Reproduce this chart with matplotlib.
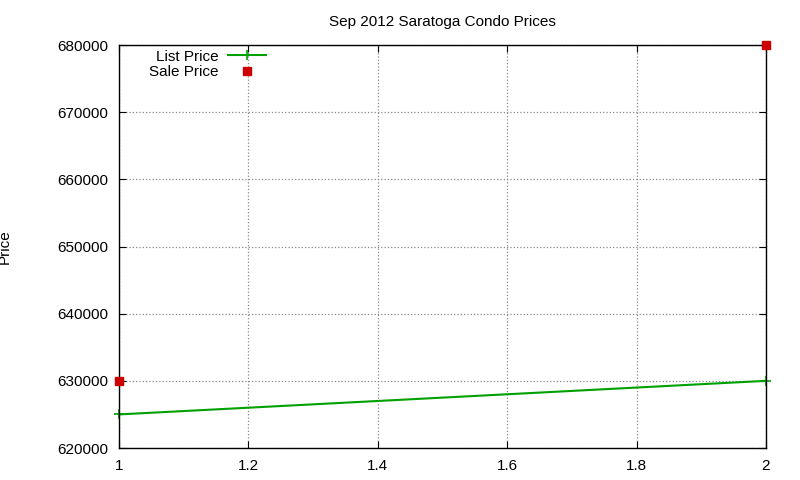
import matplotlib
matplotlib.use("Agg")
import matplotlib.pyplot as plt

x = [1, 2]
list_price = [625000, 630000]
sale_price = [630000, 680000]
title = "Sep 2012 Saratoga Condo Prices"

plt.rcParams['font.family'] = ['Liberation Sans', 'DejaVu Sans']
fig = plt.figure(figsize=(8, 4.8), dpi=100)
ax = fig.add_axes([119/800, 1-448/480, (766-119)/800, (448-45)/480])
ax.plot(x, list_price, color='#00a000', lw=1.5, marker='+', ms=7, mew=1.2, label='List Price', clip_on=False)
ax.plot(x, sale_price, ls='none', color='#cc0000', marker='s', ms=6, label='Sale Price', clip_on=False, zorder=5)
ax.set_xlim(1, 2)
ax.set_ylim(620000, 680000)
ax.set_xticks([1, 1.2, 1.4, 1.6, 1.8, 2])
ax.set_xticklabels(['1', '1.2', '1.4', '1.6', '1.8', '2'])
ax.set_yticks(range(620000, 680001, 10000))
ax.grid(True, color='#888888', ls=':', lw=0.9)
ax.tick_params(direction='in', labelsize=11, top=True, right=True, length=5, pad=8)
ax.set_ylabel('Price', fontsize=11)
ax.yaxis.set_label_coords(-(119-12)/647, 0.5)
ax.set_title(title, fontsize=11, pad=14)
for s in ax.spines.values():
    s.set_linewidth(1)
leg = ax.legend(loc='upper left', bbox_to_anchor=(0.03, 1.015), frameon=False, fontsize=11,
                markerfirst=False, handlelength=2.5, borderpad=0.2, labelspacing=0.1, handletextpad=0.6)
for t in leg.get_texts():
    t.set_ha('right')
fig.savefig('out.png', dpi=100)
